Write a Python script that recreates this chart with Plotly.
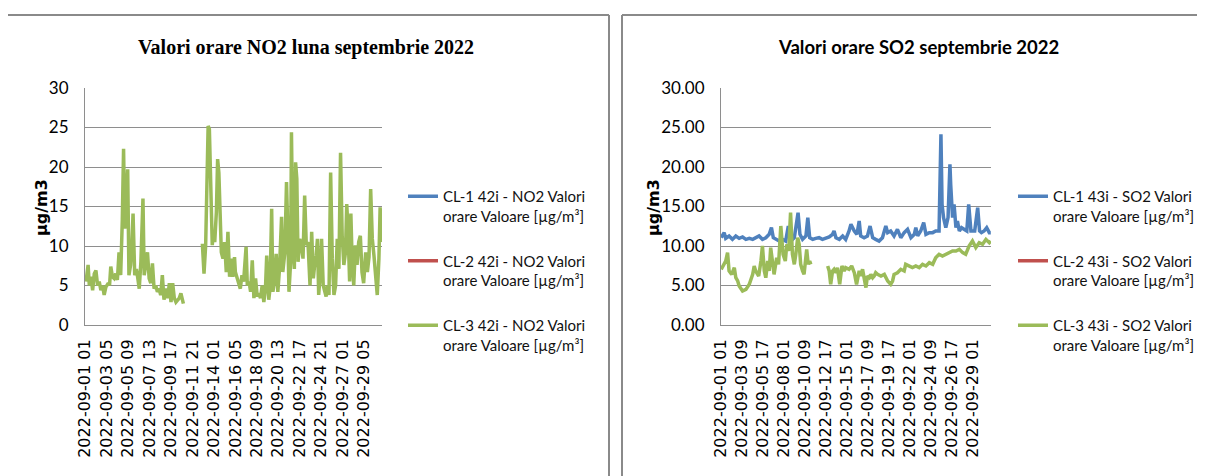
import pandas as pd
import plotly.graph_objects as go

# ---------------- categories (hourly, September 2022) ----------------
hour_labels = list(pd.date_range("2022-09-01 01:00", periods=720, freq="h").strftime("%Y-%m-%d %H"))

no2_ticks = ["2022-09-01 01", "2022-09-03 05", "2022-09-05 09", "2022-09-07 13", "2022-09-09 17",
             "2022-09-11 21", "2022-09-14 01", "2022-09-16 05", "2022-09-18 09", "2022-09-20 13",
             "2022-09-22 17", "2022-09-24 21", "2022-09-27 01", "2022-09-29 05"]
so2_ticks = ["2022-09-01 01", "2022-09-03 09", "2022-09-05 17", "2022-09-08 01", "2022-09-10 09",
             "2022-09-12 17", "2022-09-15 01", "2022-09-17 09", "2022-09-19 17", "2022-09-22 01",
             "2022-09-24 09", "2022-09-26 17", "2022-09-29 01"]

# ---------------- NO2 series (hour offset from 2022-09-01 01, value) ----------------
no2_cl1_hours = []
no2_cl1 = []
no2_cl2_hours = []
no2_cl2 = []
no2_cl3_hours = [2, 7, 10, 14, 18, 22, 26, 30, 34, 38, 42, 46, 50, 56, 59, 62, 66, 70, 74, 78,
                 82, 86, 90, 93, 96, 99, 103, 106, 110, 113, 116, 120, 124, 127, 131, 135, 140, 143, 147, 151,
                 155, 159, 163, 167, 171, 175, 179, 183, 187, 191, 196, 200, 204, 208, 212, 216, 220, 224, 228, 232,
                 238, 260,
                 284, 288, 292, 296, 298, 301, 305, 308, 311, 314, 318, 321, 324, 327, 330, 334, 338, 342, 346, 350,
                 354, 358, 362, 364, 368, 372, 376, 380, 384, 390, 393, 397, 401, 405, 409, 413, 417, 421, 425, 429,
                 433, 437, 440, 445, 448, 452, 455, 459, 463, 467, 471, 476, 479, 484, 488, 491, 494, 498, 500, 503,
                 507, 510, 513, 516, 520, 524, 528, 532, 536, 540, 545, 549, 553, 557, 560, 563, 566, 570, 573, 577,
                 581, 584, 587, 591, 593, 595, 599, 603, 607, 611, 615, 619, 623, 627, 631, 634, 637, 641, 644, 647,
                 651, 655, 659, 663, 667, 671, 675, 680, 684, 688, 692, 696, 700, 704, 708, 712, 715, 719]
no2_cl3 = [5.5, 7.6, 5.0, 6.1, 4.4, 6.5, 6.9, 5.0, 5.5, 4.4, 5.0, 3.8, 4.8, 5.3, 5.0, 7.4, 6.1, 5.9, 6.5, 5.7,
           9.2, 6.3, 13.4, 22.3, 12.2, 16.4, 19.7, 6.3, 7.6, 10.1, 14.1, 6.3, 7.1, 6.1, 4.6, 8.0, 16.0, 6.3, 7.6, 9.2,
           5.9, 5.3, 7.8, 4.6, 5.0, 4.2, 4.6, 3.8, 6.3, 3.2, 4.6, 3.4, 5.3, 2.9, 5.3, 3.4, 2.9, 3.2, 3.4, 4.0,
           2.7, None,
           10.3, 6.5, 10.1, 19.7, 25.2, 24.8, 13.4, 10.1, 11.8, 10.5, 14.3, 21.0, 19.3, 14.3, 9.2, 8.4, 10.5, 6.7, 11.8, 6.1,
           8.4, 6.1, 8.6, 6.7, 5.9, 5.3, 4.6, 6.3, 5.5, 9.9, 5.0, 5.5, 4.2, 8.2, 3.4, 5.9, 3.6, 4.0, 3.4, 5.0,
           2.9, 4.6, 8.8, 3.2, 4.6, 14.7, 4.2, 5.5, 9.0, 4.2, 7.1, 13.7, 6.7, 9.2, 18.1, 12.2, 4.2, 8.0, 24.4, 11.8,
           7.1, 20.6, 18.5, 8.0, 10.9, 10.1, 8.4, 16.4, 10.1, 10.5, 5.0, 11.8, 5.9, 8.0, 8.8, 10.9, 3.8, 6.7, 10.9, 5.0,
           4.2, 3.6, 5.0, 3.8, 11.8, 19.3, 8.4, 3.8, 5.0, 10.9, 7.1, 21.8, 11.3, 7.6, 9.2, 15.3, 12.2, 5.5, 14.1, 8.4,
           5.0, 10.1, 7.6, 10.5, 11.3, 6.7, 5.3, 9.2, 6.7, 8.6, 17.2, 10.9, 8.8, 6.7, 3.8, 8.4, 14.9, 10.5]

# ---------------- SO2 series ----------------
so2_cl1_hours = [0, 8, 12, 21, 30, 39, 48, 57, 66, 75, 84, 92, 101, 110, 119, 128, 134, 139, 146, 155,
                 164, 172, 179, 186, 195, 201, 205, 210, 217, 226, 231, 236, 244, 252, 261, 270, 279, 288, 297, 301,
                 306, 315, 324, 332, 341, 346, 355, 362, 368, 372, 381, 390, 397, 404, 412, 421, 430, 439, 444, 452,
                 461, 470, 479, 488, 497, 506, 515, 519, 524, 532, 540, 546, 555, 564, 572, 581, 586, 589, 593, 599,
                 605, 610, 612, 617, 621, 626, 630, 635, 641, 648, 655, 660, 666, 670, 676, 684, 689, 694, 701, 708,
                 715, 719]
so2_cl1 = [11.05, 11.7, 10.97, 11.27, 10.84, 11.27, 10.97, 11.14, 10.84, 10.97, 10.84, 11.05, 11.27, 10.84, 11.05, 11.48, 12.32, 11.05, 10.84, 10.63,
           10.84, 10.63, 12.53, 10.63, 11.05, 12.74, 14.22, 11.48, 10.84, 11.27, 13.59, 11.05, 10.84, 10.97, 11.05, 10.84, 10.97, 11.14, 11.48, 11.9,
           11.05, 10.84, 11.27, 10.84, 11.9, 12.74, 11.9, 11.48, 13.16, 11.27, 11.05, 11.27, 12.53, 11.05, 10.84, 10.63, 11.05, 12.53, 11.69, 11.9,
           11.27, 12.11, 11.05, 11.69, 12.11, 11.05, 11.48, 12.32, 11.27, 11.9, 12.95, 11.48, 11.69, 11.69, 11.9, 11.9, 24.13, 15.27, 13.59, 12.32,
           13.59, 20.34, 17.8, 13.59, 15.27, 12.32, 13.16, 11.9, 12.32, 12.11, 11.9, 15.27, 11.9, 11.9, 11.9, 14.85, 11.9, 11.69, 11.9, 12.32,
           11.69, 11.69]
so2_cl2_hours = []
so2_cl2 = []
so2_cl3_hours = [0, 5, 12, 17, 21, 28, 35, 39, 44, 48, 57, 66, 75, 84, 88, 92, 100, 106, 110, 115,
                 119, 124, 128, 132, 137, 141, 148, 153, 159, 165, 171, 175, 180, 185, 190, 195, 199, 204, 208, 212,
                 217, 221, 228, 232, 236, 239, 260,
                 284, 288, 292, 297, 301, 306, 310, 316, 322, 328, 332, 341, 348, 355, 361, 368, 372, 377, 381, 386,
                 390, 395, 399, 404, 408, 412, 417, 426, 435, 444, 452, 457, 461, 470, 479, 488, 492, 501, 510, 519,
                 528, 537, 546, 555, 564, 572, 581, 590, 599, 608, 617, 626, 635, 644, 652, 661, 670, 679, 688, 697,
                 706, 715, 719]
so2_cl3 = [7.05, 7.47, 8.1, 9.16, 6.84, 6.41, 7.26, 5.99, 5.57, 4.94, 4.3, 4.51, 5.15, 6.41, 7.47, 6.84, 6.2, 8.1, 10.0, 6.84,
           5.99, 8.1, 6.84, 9.79, 7.47, 6.41, 8.52, 7.68, 12.53, 8.95, 8.1, 10.21, 9.37, 14.22, 8.95, 7.68, 8.95, 11.05, 10.21, 7.68,
           6.84, 6.41, 9.58, 7.68, 8.1, 7.68, None,
           7.47, 6.84, 5.15, 6.84, 7.05, 6.62, 7.26, 5.15, 7.47, 6.84, 7.26, 7.05, 7.47, 6.62, 5.15, 6.84, 6.2, 7.05, 5.99, 4.73,
           6.2, 5.99, 6.41, 5.99, 6.2, 6.62, 6.41, 6.2, 6.41, 5.57, 5.15, 5.57, 6.41, 6.62, 7.05, 6.84, 7.68, 7.47, 7.26, 7.47,
           7.26, 7.68, 7.47, 7.89, 7.68, 8.52, 8.95, 8.73, 8.95, 9.16, 9.37, 9.37, 9.58, 9.16, 8.95, 10.0, 10.63, 9.79, 10.42, 10.21,
           10.84, 10.42, 10.63]

no2_names = ["CL-1 42i - NO2 Valori<br>orare Valoare [µg/m³]",
             "CL-2 42i - NO2 Valori<br>orare Valoare [µg/m³]",
             "CL-3 42i - NO2 Valori<br>orare Valoare [µg/m³]"]
so2_names = ["CL-1 43i - SO2 Valori<br>orare Valoare [µg/m³]",
             "CL-2 43i - SO2 Valori<br>orare Valoare [µg/m³]",
             "CL-3 43i - SO2 Valori<br>orare Valoare [µg/m³]"]
colors = ["#4F81BD", "#C0504D", "#9BBB59"]

W, H = 1205, 476
OFF = 8  # page body margin offset of the figure in the window
def px_x(p): return (p - OFF) / W
def px_y(p): return 1 - (p - OFF) / H

GRID = "#8E8E8E"
AXIS = "#8E8E8E"
FRAME = "#8A8A8A"
LW = 3.5

fig = go.Figure()

no2_series = [(no2_cl1_hours, no2_cl1), (no2_cl2_hours, no2_cl2), (no2_cl3_hours, no2_cl3)]
for i, (hrs, vals) in enumerate(no2_series):
    fig.add_trace(go.Scatter(
        x=hrs if hrs else [None], y=vals if vals else [None], mode="lines",
        name=no2_names[i], line=dict(color=colors[i], width=LW),
        xaxis="x", yaxis="y", legend="legend", legendgroup="n%d" % i,
        connectgaps=False, hoverinfo="skip"))

so2_series = [(so2_cl1_hours, so2_cl1), (so2_cl2_hours, so2_cl2), (so2_cl3_hours, so2_cl3)]
for i, (hrs, vals) in enumerate(so2_series):
    fig.add_trace(go.Scatter(
        x=hrs if hrs else [None], y=vals if vals else [None], mode="lines",
        name=so2_names[i], line=dict(color=colors[i], width=LW),
        xaxis="x2", yaxis="y2", legend="legend2", legendgroup="s%d" % i,
        connectgaps=False, hoverinfo="skip"))

ydom = [px_y(325), px_y(88)]
xfont = dict(family="DejaVu Sans", size=16, color="black")
yfont = dict(family="Lato", size=17, color="black")

common_x = dict(showgrid=False, showline=True, linecolor=AXIS, linewidth=1, ticks="",
                tickangle=-90, tickfont=xfont, automargin=False, zeroline=False,
                range=[-0.5, 719.5], tickmode="array", ticklabelstandoff=7, fixedrange=True)
common_y = dict(range=[0, 30], dtick=5, tick0=0, showgrid=True, gridcolor=GRID, gridwidth=1,
                showline=True, linecolor=AXIS, linewidth=1, zeroline=False, ticks="",
                tickfont=yfont, automargin=False, ticklabelstandoff=12, fixedrange=True)

legend_common = dict(xanchor="left", y=px_y(180), yanchor="top",
                     font=dict(family="Lato", size=15, color="#111111"), bgcolor="rgba(0,0,0,0)",
                     borderwidth=0, tracegroupgap=22.5, valign="top", itemclick=False, itemdoubleclick=False)

def frame_line(x0, y0, x1, y1):
    return dict(type="line", xref="paper", yref="paper", x0=x0, y0=y0, x1=x1, y1=y1,
                line=dict(color=FRAME, width=2), layer="below")

top = px_y(15)
fig.update_layout(
    width=W, height=H, margin=dict(l=0, r=0, t=0, b=0),
    paper_bgcolor="white", plot_bgcolor="white",
    xaxis=dict(domain=[px_x(85), px_x(382)], anchor="y",
               tickvals=[hour_labels.index(t) for t in no2_ticks], ticktext=no2_ticks, **common_x),
    yaxis=dict(domain=ydom, anchor="x", **common_y),
    xaxis2=dict(domain=[px_x(721), px_x(991)], anchor="y2",
                tickvals=[hour_labels.index(t) for t in so2_ticks], ticktext=so2_ticks, **common_x),
    yaxis2=dict(domain=ydom, anchor="x2", tickformat=".2f", **common_y),
    legend=dict(x=px_x(403), **legend_common),
    legend2=dict(x=px_x(1013), **legend_common),
    showlegend=True,
    shapes=[
        # left chart frame (bottom edge lies below the window)
        frame_line(px_x(6), top, px_x(609), top),
        frame_line(px_x(6), top, px_x(6), 0),
        frame_line(px_x(609), top, px_x(609), 0),
        # right chart frame (right and bottom edges lie outside the window)
        frame_line(px_x(622), top, 1, top),
        frame_line(px_x(622), top, px_x(622), 0),
    ],
    annotations=[
        dict(text="<b>Valori orare NO2 luna septembrie 2022</b>", xref="paper", yref="paper",
             x=px_x(306), y=px_y(47), xanchor="center", yanchor="middle", showarrow=False,
             font=dict(family="Liberation Serif", size=20, color="black")),
        dict(text="<b>Valori orare SO2 septembrie 2022</b>", xref="paper", yref="paper",
             x=px_x(918), y=px_y(47), xanchor="center", yanchor="middle", showarrow=False,
             font=dict(family="Lato", size=18.5, color="black")),
        dict(text="<b>µg/m3</b>", xref="paper", yref="paper", x=px_x(41), y=px_y(208),
             xanchor="center", yanchor="middle", textangle=-90, showarrow=False,
             font=dict(family="DejaVu Sans", size=16, color="black")),
        dict(text="<b>µg/m3</b>", xref="paper", yref="paper", x=px_x(653), y=px_y(208),
             xanchor="center", yanchor="middle", textangle=-90, showarrow=False,
             font=dict(family="DejaVu Sans", size=16, color="black")),
    ],
)

fig.write_html("out.html")
